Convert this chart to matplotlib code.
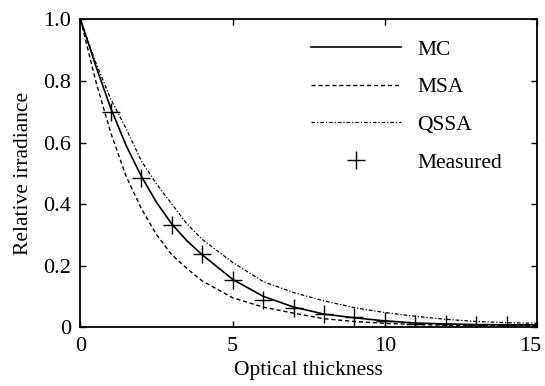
import matplotlib
matplotlib.use("Agg")
import matplotlib.pyplot as plt
from matplotlib.transforms import ScaledTranslation

# ---------- data ----------
tau = [0, 0.5, 1, 1.5, 2, 2.5, 3, 3.5, 4, 5, 6, 7, 8, 9, 10, 11, 12, 13, 14, 15]
mc = [1.0, 0.85, 0.71, 0.59, 0.49, 0.405, 0.335, 0.28, 0.235, 0.155, 0.10,
      0.065, 0.042, 0.03, 0.02, 0.013, 0.01, 0.008, 0.007, 0.007]
msa = [1.0, 0.80, 0.63, 0.49, 0.385, 0.30, 0.235, 0.19, 0.15, 0.095, 0.065,
       0.045, 0.027, 0.018, 0.012, 0.008, 0.006, 0.005, 0.005, 0.005]
qssa = [1.0, 0.86, 0.74, 0.645, 0.54, 0.465, 0.40, 0.335, 0.285, 0.21, 0.148,
        0.112, 0.085, 0.063, 0.047, 0.035, 0.025, 0.018, 0.014, 0.012]

meas_tau = [1, 2, 3, 4, 5, 6, 7, 8, 9, 10, 11, 12, 13, 14]
measured = [0.698, 0.486, 0.332, 0.237, 0.153, 0.088, 0.062, 0.042, 0.033,
            0.018, 0.011, 0.01, 0.008, 0.008]

x_ticks = [0, 5, 10, 15]
y_ticks = [0, 0.2, 0.4, 0.6, 0.8, 1.0]
y_tick_labels = ["0", "0.2", "0.4", "0.6", "0.8", "1.0"]

plt.rcParams["font.family"] = ["Liberation Serif", "DejaVu Serif"]
plt.rcParams["font.size"] = 15.5

fig = plt.figure(figsize=(5.45, 3.86), dpi=100)
ax = fig.add_axes([0.1477, 0.1528, 0.8376, 0.7967])

ax.plot(tau, mc, color="black", lw=1.2, ls="-", label="MC")
ax.plot(tau, msa, color="black", lw=1.0, ls=(0, (3, 2)), label="MSA")
ax.plot(tau, qssa, color="black", lw=0.9, ls=(0, (3, 1.5, 1, 1.5)), label="QSSA")
ax.plot(meas_tau, measured, ls="none", marker="+", ms=13, mew=1.0,
        color="black", label="Measured")

ax.set_xlim(0, 15)
ax.set_ylim(0, 1.0)
ax.set_xticks(x_ticks)
ax.set_xticklabels([str(t) for t in x_ticks])
ax.set_yticks(y_ticks)
ax.set_yticklabels(y_tick_labels)
ax.tick_params(direction="in", top=True, right=True, length=4, width=1.0,
               pad=7, labelsize=16)
for s in ax.spines.values():
    s.set_linewidth(1.3)

# the last x label sits against the right edge, nudge it in a little
last = ax.get_xticklabels()[-1]
last.set_transform(last.get_transform() + ScaledTranslation(-5 / 72, 0, fig.dpi_scale_trans))

ax.set_xlabel("Optical thickness", labelpad=4)
ax.set_ylabel("Relative irradiance", labelpad=7)

ax.legend(loc="upper left", bbox_to_anchor=(0.505, 0.935), frameon=False,
          borderpad=0, borderaxespad=0, handlelength=4.2, handletextpad=0.73,
          labelspacing=0.82, fontsize=15.5)

fig.savefig("out.png", dpi=100)
